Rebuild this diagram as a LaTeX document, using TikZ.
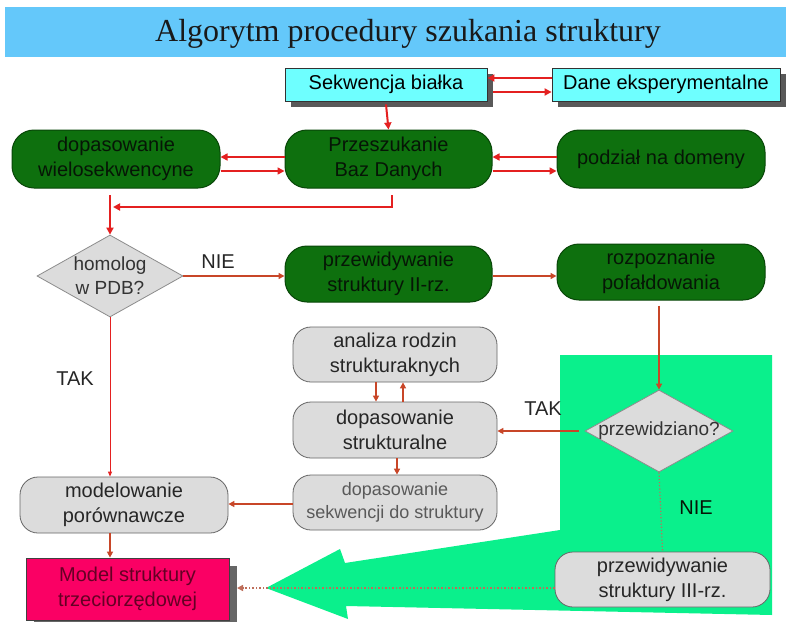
\documentclass[tikz,border=0pt]{standalone}
\usepackage{fontspec}
\setmainfont{Liberation Sans}
\newfontfamily\titlefont{Liberation Serif}
\usetikzlibrary{shapes.geometric,shadows,arrows.meta}
\definecolor{titlebg}{RGB}{100,200,250}
\definecolor{cyanfill}{RGB}{110,255,255}
\definecolor{grn}{RGB}{14,112,14}
\definecolor{grndark}{RGB}{8,70,8}
\definecolor{grntext}{RGB}{6,22,6}
\definecolor{gryfill}{RGB}{220,220,220}
\definecolor{mint}{RGB}{10,240,140}
\definecolor{magbox}{RGB}{250,0,100}
\definecolor{magtext}{RGB}{100,0,36}
\definecolor{redA}{RGB}{228,32,32}
\definecolor{redB}{RGB}{200,70,40}
\definecolor{dotcol}{RGB}{190,110,90}
\begin{document}
\begin{tikzpicture}[x=1pt,y=-1pt,
  box/.style={rectangle, inner sep=0pt, align=center, font=\fontsize{20}{25}\selectfont},
  cyanbox/.style={box, fill=cyanfill, draw=black!80, line width=0.8pt,
     drop shadow={shadow xshift=6pt, shadow yshift=-6pt, fill=black!65, opacity=1}},
  greenbox/.style={box, rounded corners=22pt, fill=grn, draw=grndark, text=grntext, line width=1pt},
  graybox/.style={box, rounded corners=18pt, fill=gryfill, draw=black!60, text=black!85, line width=0.8pt},
  dia/.style={diamond, draw=black!45, fill=gryfill, inner sep=0pt, line width=0.8pt},
  dtext/.style={align=center, inner sep=0pt, text=black!80, font=\fontsize{19}{24}\selectfont},
  lab/.style={inner sep=0pt, text=black!85, font=\fontsize{20}{24}\selectfont},
  redarr/.style={draw=redA, line width=2pt, -{Triangle[length=7pt,width=7pt]}},
  orarr/.style={draw=redB, line width=1.5pt, -{Triangle[length=6pt,width=6pt]}},
]
\useasboundingbox (0,0) rectangle (792,621);
\fill[white] (0,0) rectangle (792,621);

% title
\node[fill=titlebg, minimum width=781pt, minimum height=50pt, inner sep=0pt] (titlebar) at (395.5,32) {};
\node[inner sep=0pt, text=black!90, font=\titlefont\fontsize{32}{36}\selectfont] (title) at (408,34) {Algorytm procedury szukania struktury};

% big green arrow
\fill[mint] (560,355) -- (772,355) -- (772,615) -- (346,606) -- (348,619) -- (266,588) -- (340,549) -- (345,563) -- (560,530) -- cycle;

% top boxes
\node[cyanbox, minimum width=202pt, minimum height=33pt] (sek) at (386,84.5) {Sekwencja białka};
\node[cyanbox, minimum width=228pt, minimum height=33pt] (dane) at (666,84.5) {Dane eksperymentalne};

\node[greenbox, minimum width=208pt, minimum height=58pt] (dop) at (116,159) {dopasowanie\\wielosekwencyne};
\node[greenbox, minimum width=207pt, minimum height=58pt] (prz) at (388.5,159) {Przeszukanie\\Baz Danych};
\node[greenbox, minimum width=208pt, minimum height=58pt] (pod) at (661,159) {podział na domeny};

\node[dia, minimum width=146pt, minimum height=82pt, label={[dtext]center:{homolog\\w PDB?}}] (hom) at (110,276) {};
\node[greenbox, minimum width=207pt, minimum height=56pt] (II) at (388.5,274) {przewidywanie\\struktury II-rz.};
\node[greenbox, minimum width=208pt, minimum height=56pt] (roz) at (661,272) {rozpoznanie\\pofałdowania};

\node[graybox, minimum width=204pt, minimum height=55pt] (ana) at (395,354.5) {analiza rodzin\\strukturaknych};
\node[graybox, minimum width=204pt, minimum height=56pt] (dst) at (395,430) {dopasowanie\\strukturalne};
\node[graybox, minimum width=204pt, minimum height=55pt, text=black!65, font=\fontsize{18}{23}\selectfont] (dsq) at (395,502.5) {dopasowanie\\sekwencji do struktury};
\node[graybox, minimum width=208pt, minimum height=56pt] (mod) at (124,505) {modelowanie\\porównawcze};

\node[dia, minimum width=148pt, minimum height=82pt, label={[dtext]center:{przewidziano?}}] (prw) at (659,431) {};
\node[graybox, minimum width=215pt, minimum height=55pt] (III) at (662.5,579.5) {przewidywanie\\struktury III-rz.};

\node[box, fill=magbox, draw=black!75, text=magtext, line width=0.8pt, minimum width=203pt, minimum height=62pt,
  drop shadow={shadow xshift=8pt, shadow yshift=-8pt, fill=black!60, opacity=1}] (model) at (127.5,589) {Model struktury\\trzeciorzędowej};

% labels
\node[lab] (nie1) at (218,262) {NIE};
\node[lab] (tak1) at (75,379) {TAK};
\node[lab] (tak2) at (543,409) {TAK};
\node[lab, text=grntext] (nie2) at (696,508) {NIE};

% top connectors
\coordinate (j0) at (392,195);
\coordinate (j1) at (113,207);
\coordinate (j2) at (110,195);
\draw[redarr] (dane.west |- 0,78) -- (sek.east |- 0,78);
\draw[redarr] (sek.east |- 0,92) ++(6,0) -- (dane.west |- 0,92);
\draw[redarr] (sek.south) ++(0,3) -- (prz.north);
\draw[redarr, line width=1.6pt] (prz.west |- 0,157) -- (dop.east |- 0,157);
\draw[redarr, line width=1.6pt] (dop.east |- 0,171) -- (prz.west |- 0,171);
\draw[redarr, line width=1.6pt] (pod.west |- 0,157) -- (prz.east |- 0,157);
\draw[redarr, line width=1.6pt] (prz.east |- 0,171) -- (pod.west |- 0,171);
\draw[redarr] (j0) |- (j1);
\draw[redarr] (j2) -- (hom.north);

% lower connectors
\draw[orarr] (hom.east) -- (II.west |- hom.east);
\draw[orarr] (II.east |- 0,276) -- (roz.west |- 0,276);
\draw[orarr] (prw.north |- roz.south) ++(0,5) -- (prw.north);
\draw[orarr] (prw.west) ++(-6,0) -- (dst.east |- prw.west);
\draw[orarr] (ana.south -| 376,0) -- (dst.north -| 376,0);
\draw[orarr] (dst.north -| 403,0) -- (ana.south -| 403,0);
\draw[orarr] (dst.south -| 397,0) -- (dsq.north -| 397,0);
\draw[orarr] (dsq.west |- 0,504) -- (mod.east |- 0,504);
\draw[draw=redA, line width=0.9pt, -{Triangle[length=5pt,width=4pt]}] (hom.south) -- (hom.south |- mod.north);
\draw[orarr] (hom.south |- mod.south) -- (hom.south |- model.north);
\draw[draw=dotcol, line width=1.2pt, dotted] (prw.south) -- (III.north);
\coordinate (mtip) at (237,588);
\draw[draw=dotcol, line width=1.5pt, dotted, -{Triangle[length=6pt,width=6pt]}] (III.west |- 0,588) -- (mtip);
\end{tikzpicture}
\end{document}
